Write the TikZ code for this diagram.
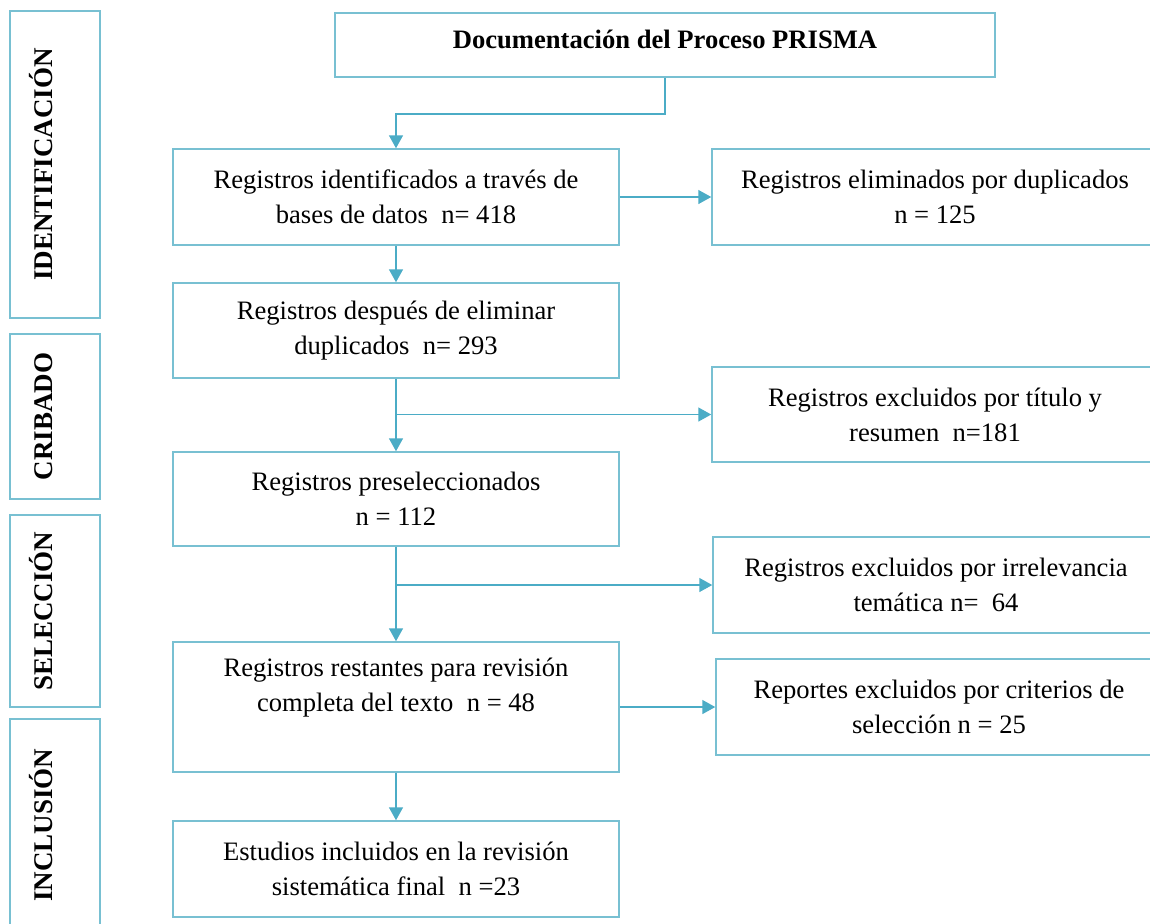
\documentclass[tikz,border=0pt]{standalone}
\usepackage{fontspec}
\setmainfont{Liberation Serif}
\usetikzlibrary{arrows.meta}

\definecolor{boxline}{RGB}{120,192,210}
\definecolor{arrowline}{RGB}{75,172,198}

\begin{document}
\begin{tikzpicture}[x=0.5pt,y=-0.5pt,line width=.75pt,
    box/.style={draw=boxline,align=center,inner sep=0pt,minimum width=223pt,minimum height=48pt,font=\fontsize{13.3}{17.5}\selectfont},
    side/.style={draw=boxline,rotate=90,inner sep=0pt,minimum height=45pt,font=\fontsize{13.5}{15}\selectfont\bfseries,text height=9pt,text depth=12pt},
    arr/.style={draw=arrowline,-{Triangle[width=7pt,length=6.5pt]}}]
        \path[use as bounding box,clip] (0,0) rectangle (1150,923);
        \fill[white] (0,0) rectangle (1150,923);

        \node[box,minimum width=330pt,minimum height=32pt,font=\fontsize{13.3}{16}\selectfont\bfseries,text height=10pt,text depth=7pt] (T) at (665,45) {Documentación del Proceso PRISMA};

        \node[side,minimum width=153.5pt] (ID) at (55,164.5) {IDENTIFICACIÓN};
        \node[side,minimum width=82.5pt] (CR) at (55,416.5) {CRIBADO};
        \node[side,minimum width=96pt] (SE) at (55,611) {SELECCIÓN};
        \node[side,minimum width=106pt] (IN) at (55,825) {INCLUSIÓN};

        \node[box] (B1) at (396,197) {Registros identificados a través de\\bases de datos~ n= 418};
        \node[box,minimum height=47.5pt] (B2) at (396,330.5) {Registros después de eliminar\\duplicados~ n= 293};
        \node[box,minimum height=47pt] (B3) at (396,499) {Registros preseleccionados\\n = 112};
        \node[box,minimum height=65pt] (B4) at (396,707) {Registros restantes para revisión\\completa del texto~ n = 48\\\strut};
        \node[box] (B5) at (396,869) {Estudios incluidos en la revisión\\sistemática final~ n =23};

        \node[box] (E1) at (935,197) {Registros eliminados por duplicados\\n = 125};
        \node[box,minimum height=47.5pt] (E2) at (935,414.5) {Registros excluidos por título y\\resumen~ n=181};
        \node[box] (E3) at (936,585) {Registros excluidos por irrelevancia\\temática n=~ 64};
        \node[box] (E4) at (939,707) {Reportes excluidos por criterios de\\selección n = 25};

        \draw[arr] (T.south) -- ++(0,36) -| (B1.north);
        \draw[arr] (B1.east) -- (E1.west);
        \draw[arr] (B1.south) -- (B2.north);
        \draw[arr] (B2.south) -- (B3.north);
        \draw[arr] (B2.south |- E2.west) -- (E2.west);
        \draw[arr] (B3.south) -- (B4.north);
        \draw[arr] (B3.south |- E3.west) -- (E3.west);
        \draw[arr] (B4.east) -- (E4.west);
        \draw[arr] (B4.south) -- (B5.north);
      \end{tikzpicture}
\end{document}
